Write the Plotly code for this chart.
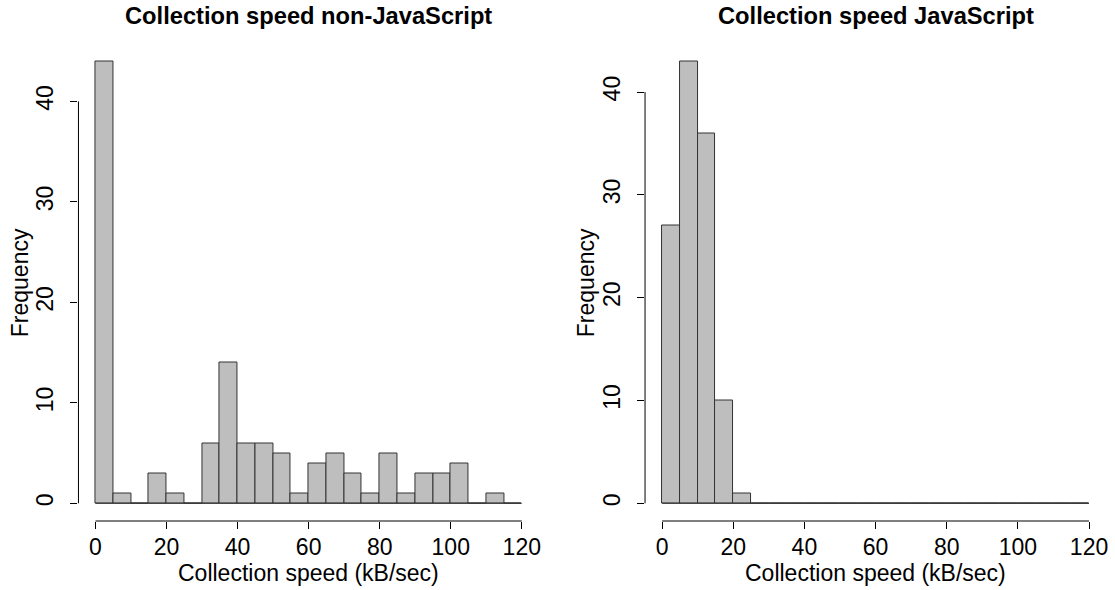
import numpy as np
import plotly.graph_objects as go

# ---- data ----
bin_edges = [0, 5, 10, 15, 20, 25, 30, 35, 40, 45, 50, 55, 60, 65, 70, 75, 80, 85, 90, 95, 100, 105, 110, 115, 120]
counts_non_js = [44, 1, 0, 3, 1, 0, 6, 14, 6, 6, 5, 1, 4, 5, 3, 1, 5, 1, 3, 3, 4, 0, 1, 0]
counts_js = [27, 43, 36, 10, 1, 0, 0, 0, 0, 0, 0, 0, 0, 0, 0, 0, 0, 0, 0, 0, 0, 0, 0, 0]
x_ticks = [0, 20, 40, 60, 80, 100, 120]
y_ticks = [0, 10, 20, 30, 40]
titles = ["Collection speed non-JavaScript", "Collection speed JavaScript"]
x_label = "Collection speed (kB/sec)"
y_label = "Frequency"

W, H = 1115, 590
FONT = "Liberation Sans, Arial, sans-serif"
FS = 23
INK = "#000000"
EDGE = "#333333"
FILL = "#BEBEBE"

edges = np.array(bin_edges, dtype=float)
centers = (edges[:-1] + edges[1:]) / 2
widths = np.diff(edges)

fig = go.Figure()

x_domains = [[78.6 / W, 539.8 / W], [646.2 / W, 1108.1 / W]]
y_domain = [1 - 521 / H, 1 - 43.5 / H]

series = [counts_non_js, counts_js]
for i, counts in enumerate(series):
    xa = "x" if i == 0 else "x2"
    ya = "y" if i == 0 else "y2"
    fig.add_trace(go.Bar(
        x=centers, y=counts, width=widths, xaxis=xa, yaxis=ya,
        marker=dict(color=FILL, line=dict(color=EDGE, width=1)),
        showlegend=False, hoverinfo="x+y",
    ))
    # baseline of zero-height bins (as R's hist draws them)
    fig.add_shape(type="line", xref=xa, yref=ya,
                  x0=edges[0], x1=edges[-1], y0=0, y1=0,
                  line=dict(color=EDGE, width=1))
    # R-style axis lines spanning first..last tick
    fig.add_shape(type="line", xref=xa, yref=f"{ya} domain",
                  x0=x_ticks[0], x1=x_ticks[-1], y0=0, y1=0,
                  line=dict(color=INK, width=1))
    fig.add_shape(type="line", xref=f"{xa} domain", yref=ya,
                  x0=0, x1=0, y0=y_ticks[0], y1=y_ticks[-1],
                  line=dict(color=INK, width=1))

    xr = edges[-1] - edges[0]
    ymax = max(counts)
    axis_common = dict(showgrid=False, zeroline=False, showline=False,
                       ticks="outside", ticklen=7, tickwidth=1, tickcolor=INK,
                       tickfont=dict(family=FONT, size=FS, color=INK))
    xkey = "xaxis" if i == 0 else "xaxis2"
    ykey = "yaxis" if i == 0 else "yaxis2"
    fig.update_layout(**{
        xkey: dict(domain=x_domains[i], anchor=ya,
                   range=[edges[0] - 0.04 * xr, edges[-1] + 0.04 * xr],
                   tickvals=x_ticks, ticktext=[str(t) for t in x_ticks],
                   ticklabelstandoff=-2, **axis_common),
        ykey: dict(domain=y_domain, anchor=xa,
                   range=[-0.04 * ymax, ymax * 1.04],
                   tickvals=y_ticks, ticktext=[str(t) for t in y_ticks],
                   tickangle=-90, ticklabelstandoff=8, **axis_common),
    })

    cx = (x_domains[i][0] + x_domains[i][1]) / 2
    fig.add_annotation(text=f"<b>{titles[i]}</b>", xref="paper", yref="paper",
                       x=cx, y=1 - 16 / H, xanchor="center", yanchor="middle",
                       showarrow=False, font=dict(family=FONT, size=23.7, color=INK))
    fig.add_annotation(text=x_label, xref="paper", yref="paper",
                       x=cx, y=1 - 573 / H, xanchor="center", yanchor="middle",
                       showarrow=False, font=dict(family=FONT, size=FS, color=INK))
    yx = 20 if i == 0 else 587
    fig.add_annotation(text=y_label, xref="paper", yref="paper",
                       x=yx / W, y=(y_domain[0] + y_domain[1]) / 2,
                       xanchor="center", yanchor="middle", textangle=-90,
                       showarrow=False, font=dict(family=FONT, size=FS, color=INK))

fig.update_layout(width=W, height=H, margin=dict(l=0, r=0, t=0, b=0),
                  paper_bgcolor="white", plot_bgcolor="white", bargap=0)

fig.write_html("out.html", config={"displayModeBar": False},
               post_script="document.body.style.margin='0';document.body.style.overflow='hidden';")
